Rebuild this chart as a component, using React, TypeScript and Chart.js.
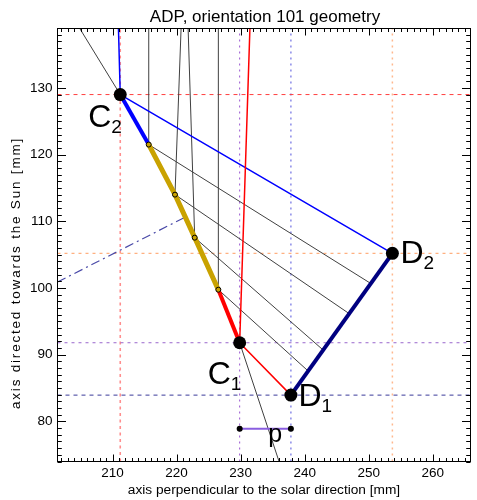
import React, { useEffect, useRef } from 'react';
import { Chart, registerables } from 'chart.js';

Chart.register(...registerables);

// ---------- text ----------
const TITLE = 'ADP, orientation 101 geometry';
const X_TITLE = 'axis perpendicular to the solar direction [mm]';
const Y_TITLE = 'axis directed towards the Sun [mm]';

// ---------- axes ----------
const X_MIN = 201.4;
const X_MAX = 265.9;
const Y_MIN = 74.0;
const Y_MAX = 138.9;
const X_TICKS = [210, 220, 230, 240, 250, 260];
const Y_TICKS = [80, 90, 100, 110, 120, 130];

// ---------- key points [x, y] (mm) ----------
const C2 = [211.2, 129.0];
const D2 = [253.7, 105.2];
const C1 = [229.85, 91.8];
const D1 = [237.85, 83.95];

// intermediate nodes on the C2 -> C1 curve
const NODE_X = [215.65, 219.75, 222.83, 226.52];
const NODE_Y = [121.5, 114.0, 107.55, 99.75];
// where the rays from the nodes meet the D1 - D2 segment
const END_X = [250.3, 246.9, 242.9, 240.5];
const END_Y = [100.7, 96.2, 90.7, 87.6];
// x where the incoming rays of the nodes leave the top of the plot
const RAY_TOP_X = [215.65, 220.7, 221.8, 226.52];

// other construction lines
const BLUE_TOP_X = 210.92;
const RED_TOP_X = 231.45;
const BLACK_TOP_X = 204.88;
const BLACK_BOTTOM_X = 236.0;
const DASHDOT_X = [201.4, 221.3];
const DASHDOT_Y = [100.9, 110.6];
const P_Y = 78.9;

// labels
const POINT_LABELS = [
  { main: 'C', sub: '2' },
  { main: 'D', sub: '2' },
  { main: 'C', sub: '1' },
  { main: 'D', sub: '1' },
];
const P_LABEL = 'p';

const FONT = '"Liberation Sans", Arial, Helvetica, sans-serif';

type P = { x: number; y: number };
const pt = (x: number, y: number): P => ({ x, y });
const pa = (a: number[]): P => ({ x: a[0], y: a[1] });

const line = (data: P[], color: string, width: number, dash: number[] = []) => ({
  type: 'scatter',
  data,
  showLine: true,
  borderColor: color,
  backgroundColor: color,
  borderWidth: width,
  borderDash: dash,
  borderCapStyle: 'butt',
  borderJoinStyle: 'round',
  pointRadius: 0,
  pointHoverRadius: 0,
  tension: 0,
  fill: false,
});

const dots = (data: P[], radius: number, fill: string, border = '#000', bw = 0) => ({
  type: 'scatter',
  data,
  showLine: false,
  pointRadius: radius,
  pointHoverRadius: radius,
  pointBackgroundColor: fill,
  pointBorderColor: border,
  pointBorderWidth: bw,
  backgroundColor: fill,
  borderColor: border,
});

function buildDatasets() {
  const nodes = NODE_X.map((x, i) => pt(x, NODE_Y[i]));
  const layers: any[] = [
    // reference lines
    line([pt(C2[0], Y_MIN), pt(C2[0], Y_MAX)], '#ff8e8e', 1.6, [3, 3.5]),
    line([pt(C1[0], Y_MIN), pt(C1[0], Y_MAX)], '#9a55d0', 1, [2, 4]),
    line([pt(D1[0], Y_MIN), pt(D1[0], Y_MAX)], '#8a8ae8', 1.5, [2, 4]),
    line([pt(D2[0], Y_MIN), pt(D2[0], Y_MAX)], '#ffb88e', 1.5, [2, 4]),
    line([pt(X_MIN, C2[1]), pt(X_MAX, C2[1])], '#ff4040', 1, [4, 4]),
    line([pt(X_MIN, D2[1]), pt(X_MAX, D2[1])], '#ffb080', 1.2, [3, 4]),
    line([pt(X_MIN, C1[1]), pt(X_MAX, C1[1])], '#9966cc', 1, [3, 4]),
    line([pt(X_MIN, D1[1]), pt(X_MAX, D1[1])], '#3a3a9a', 1, [4, 4]),
    // dash-dot construction line
    line(DASHDOT_X.map((x, i) => pt(x, DASHDOT_Y[i])), '#4a4aa8', 1.2, [9, 4, 2, 4]),
    // thin black rays
    line([pt(BLACK_TOP_X, Y_MAX), pa(C2)], '#404040', 1),
    line([pa(C1), pt(BLACK_BOTTOM_X, Y_MIN)], '#404040', 1),
    ...NODE_X.map((x, i) => line([pt(x, NODE_Y[i]), pt(RAY_TOP_X[i], Y_MAX)], '#404040', 1)),
    ...NODE_X.map((x, i) => line([pt(x, NODE_Y[i]), pt(END_X[i], END_Y[i])], '#404040', 1)),
    // thin coloured rays
    line([pt(BLUE_TOP_X, Y_MAX), pa(C2), pa(D2)], '#0000ff', 1.5),
    line([pt(RED_TOP_X, Y_MAX), pa(C1), pa(D1)], '#ff0000', 1.5),
    // p segment
    line([pt(C1[0], P_Y), pt(D1[0], P_Y)], '#8a5ee0', 2),
    // thick segments
    line([pa(C2), nodes[0]], '#0000ff', 4),
    line(nodes, '#c9a200', 5),
    line([nodes[nodes.length - 1], pa(C1)], '#ff0000', 4),
    line([pa(D1), pa(D2)], '#000080', 4),
    // markers
    dots(nodes, 2.5, '#c9a200', '#000', 1),
    dots([pt(C1[0], P_Y), pt(D1[0], P_Y)], 3, '#000'),
    dots([pa(C2), pa(D2), pa(C1), pa(D1)], 6.5, '#000'),
  ];
  const n = layers.length;
  return layers.map((d, i) => ({ ...d, order: n - i }));
}

const LABEL_OFFSETS = [
  { dx: -32, dy: 32 },
  { dx: 8, dy: 10 },
  { dx: -32, dy: 41 },
  { dx: 7.5, dy: 11 },
];

const decorPlugin = {
  id: 'decor',
  afterDraw(chart: any) {
    const { ctx, chartArea: a, scales } = chart;
    const x = scales.x;
    const y = scales.y;
    ctx.save();

    // inward tick marks on all four sides
    ctx.strokeStyle = '#000';
    ctx.lineWidth = 1;
    ctx.beginPath();
    for (let v = Math.ceil(x.min); v <= Math.floor(x.max); v++) {
      const px = Math.round(x.getPixelForValue(v)) + 0.5;
      const len = X_TICKS.includes(v) ? 7 : 3.5;
      ctx.moveTo(px, a.bottom);
      ctx.lineTo(px, a.bottom - len);
      ctx.moveTo(px, a.top);
      ctx.lineTo(px, a.top + len);
    }
    for (let v = Math.ceil(y.min); v <= Math.floor(y.max); v++) {
      const py = Math.round(y.getPixelForValue(v)) + 0.5;
      const len = Y_TICKS.includes(v) ? 8.5 : 4.3;
      ctx.moveTo(a.left, py);
      ctx.lineTo(a.left + len, py);
      ctx.moveTo(a.right, py);
      ctx.lineTo(a.right - len, py);
    }
    ctx.stroke();
    ctx.strokeRect(a.left, a.top, a.right - a.left, a.bottom - a.top);

    ctx.fillStyle = '#000';
    // title
    ctx.font = `17px ${FONT}`;
    ctx.textAlign = 'center';
    ctx.textBaseline = 'alphabetic';
    ctx.fillText(TITLE, (a.left + a.right) / 2 + 1, 21.5);

    // x title
    ctx.font = `13.7px ${FONT}`;
    ctx.fillText(X_TITLE, (a.left + a.right) / 2, 494);

    // y title
    ctx.save();
    ctx.translate(19.8, 273);
    ctx.rotate(-Math.PI / 2);
    try { (ctx as any).letterSpacing = '1.8px'; } catch (e) {}
    ctx.font = `13.5px ${FONT}`;
    ctx.textAlign = 'center';
    ctx.fillText(Y_TITLE, 0, 0);
    ctx.restore();

    // point labels
    const anchors = [C2, D2, C1, D1];
    ctx.textAlign = 'left';
    POINT_LABELS.forEach((lab, i) => {
      const px = x.getPixelForValue(anchors[i][0]) + LABEL_OFFSETS[i].dx;
      const py = y.getPixelForValue(anchors[i][1]) + LABEL_OFFSETS[i].dy;
      ctx.font = `32px ${FONT}`;
      ctx.fillText(lab.main, px, py);
      const w = ctx.measureText(lab.main).width;
      ctx.font = `19px ${FONT}`;
      ctx.fillText(lab.sub, px + w, py + 6);
    });

    // p label
    const mx = x.getPixelForValue((C1[0] + D1[0]) / 2);
    const my = y.getPixelForValue(P_Y);
    ctx.font = `25px ${FONT}`;
    ctx.fillText(P_LABEL, mx + 3, my + 13);

    ctx.restore();
  },
};

export default function App() {
  const ref = useRef<HTMLCanvasElement | null>(null);

  useEffect(() => {
    if (!ref.current) return;
    const tickFont = { family: FONT, size: 13.5 };
    const chart = new Chart(ref.current, {
      type: 'scatter',
      data: { datasets: buildDatasets() as any },
      options: {
        responsive: false,
        animation: false,
        events: [],
        layout: { padding: { left: 0, right: 0.5, top: 28.5, bottom: 0 } },
        plugins: {
          legend: { display: false },
          tooltip: { enabled: false },
          title: { display: false },
        },
        scales: {
          x: {
            type: 'linear',
            position: 'bottom',
            min: X_MIN,
            max: X_MAX,
            grid: { display: false, drawTicks: false },
            border: { display: false },
            ticks: { padding: 4, font: tickFont, color: '#000', maxRotation: 0, autoSkip: false },
            afterBuildTicks: (s: any) => {
              s.ticks = X_TICKS.map((v) => ({ value: v }));
            },
            afterFit: (s: any) => {
              s.height = 38.5;
            },
          },
          y: {
            type: 'linear',
            position: 'left',
            min: Y_MIN,
            max: Y_MAX,
            grid: { display: false, drawTicks: false },
            border: { display: false },
            ticks: { padding: 5, font: tickFont, color: '#000', autoSkip: false },
            afterBuildTicks: (s: any) => {
              s.ticks = Y_TICKS.map((v) => ({ value: v }));
            },
            afterFit: (s: any) => {
              s.width = 57.5;
            },
          },
        },
      } as any,
      plugins: [decorPlugin],
    });
    return () => chart.destroy();
  }, []);

  return (
    <div>
      <canvas
        ref={ref}
        width={477}
        height={500}
        style={{ position: 'absolute', left: 0, top: 0, width: 477, height: 500 }}
      />
    </div>
  );
}
